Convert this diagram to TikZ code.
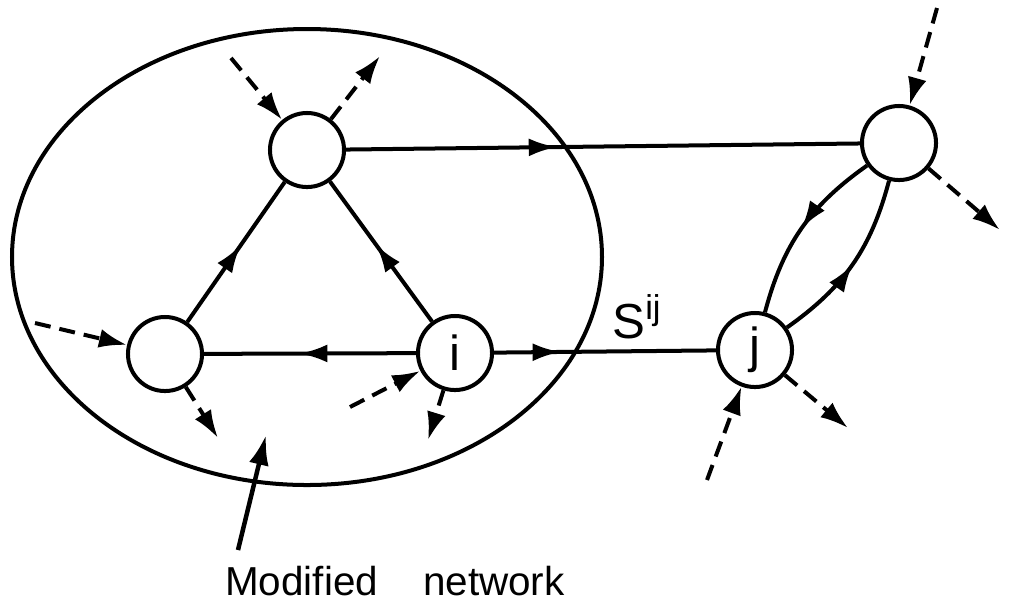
\documentclass[tikz,border=0pt]{standalone}
\usepackage{fontspec}
\setmainfont{Liberation Sans}
\usetikzlibrary{arrows.meta,decorations.markings}

\tikzset{
  station/.style={circle, draw, line width=0.4mm, minimum size=0.74cm, inner sep=0pt, font=\fontsize{14}{16}\selectfont},
  flow/.style={line width=0.4mm},
  midarrow/.style={postaction={decorate}, decoration={markings, mark=at position #1 with {\arrow{Latex[length=2.8mm,width=1.8mm]}}}},
  dashflow/.style={line width=0.4mm, dash pattern=on 1.6mm off 0.9mm, -{Latex[length=2.8mm,width=1.9mm]}},
  pointer/.style={line width=0.45mm, -{Latex[length=3mm,width=2mm]}}
}

\begin{document}
\begin{tikzpicture}[x=0.01cm, y=-0.01cm]
    \useasboundingbox (0,0) rectangle (1009,605);

    %modified region
    \draw[line width=0.4mm] (307,257) ellipse [x radius=295, y radius=228];

    %nodes
    \node[station] (a) at (307,150) {};
    \node[station] (b) at (165,354) {};
    \node[station] (i) at (455,353) {i};
    \node[station] (c) at (899,143) {};
    \node[station] (j) at (755,350) {j};

    %links
    \draw[flow, midarrow=0.55] (b) -- (a);
    \draw[flow, midarrow=0.55] (i) -- (a);
    \draw[flow, midarrow=0.55] (i) -- (b);
    \draw[flow, midarrow=0.41] (a) -- (c);
    \draw[flow, midarrow=0.3] (i) -- (j);
    \draw[flow, midarrow=0.5] (c) to[bend right=20] (j);
    \draw[flow, midarrow=0.5] (j) to[bend right=20] (c);

    %outside flows (dashes)
    \coordinate (ina) at (231,58);
    \coordinate (outa) at (380,56);
    \coordinate (inb) at (35,323);
    \coordinate (outb) at (218,438);
    \coordinate (ini) at (350,407);
    \coordinate (outi) at (428,440);
    \coordinate (inc) at (937,8);
    \coordinate (outc) at (1000,230);
    \coordinate (inj) at (707,480);
    \coordinate (outj) at (848,428);
    \draw[dashflow] (ina) -- (a);
    \draw[dashflow] (a) -- (outa);
    \draw[dashflow] (inb) -- (b);
    \draw[dashflow] (b) -- (outb);
    \draw[dashflow] (ini) -- (i);
    \draw[dashflow] (i) -- (outi);
    \draw[dashflow] (inc) -- (c);
    \draw[dashflow] (c) -- (outc);
    \draw[dashflow] (inj) -- (j);
    \draw[dashflow] (j) -- (outj);

    %labels
    \node[anchor=base west, font=\fontsize{14}{16}\selectfont] (sij) at (600,338) {S\textsuperscript{ij}};
    \coordinate (tail) at (238,550);
    \coordinate (tip) at (266,435);
    \draw[pointer] (tail) -- (tip);
    \node[anchor=base, font=\fontsize{11.5}{13}\selectfont] (name) at (395,595) {Modified\hspace{4.5mm}network};
\end{tikzpicture}
\end{document}
